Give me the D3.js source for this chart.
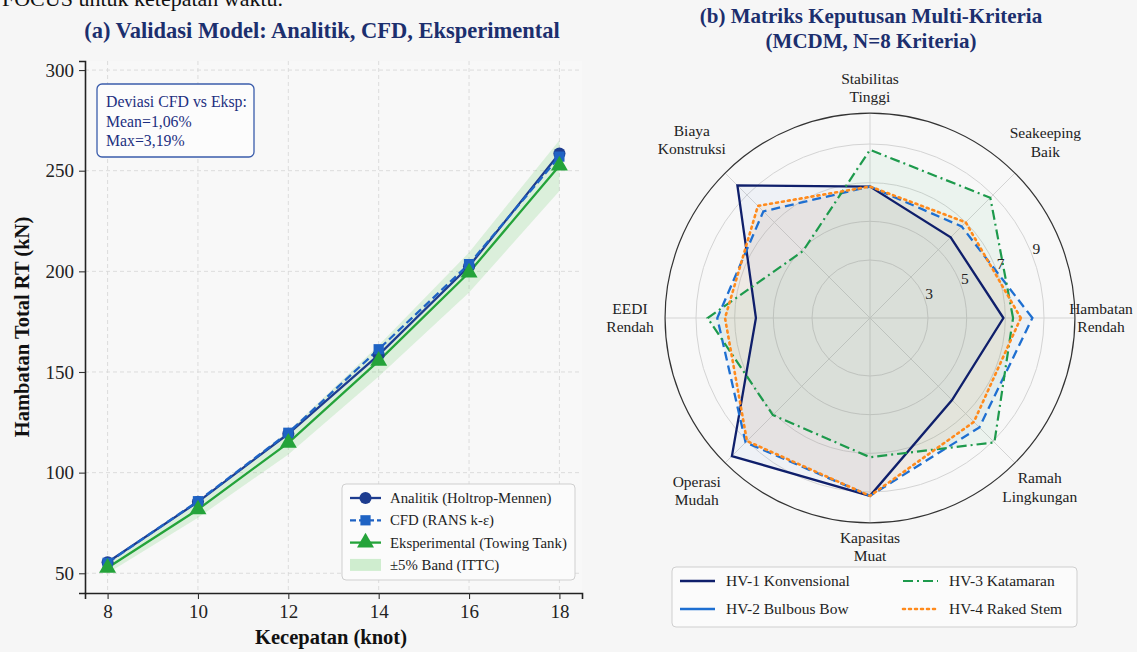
<!DOCTYPE html>
<html>
<head>
<meta charset="utf-8">
<script src="https://cdn.jsdelivr.net/npm/d3@7/dist/d3.min.js"></script>
<style>
  html, body { margin: 0; padding: 0; background: #f6f6f6; }
  svg { display: block; }
  text { font-family: "Liberation Serif", "DejaVu Serif", serif; }
</style>
</head>
<body>
<svg id="fig" width="1137" height="652"></svg>
<script>
// ---- Panel (a): resistance vs speed ----
const speeds = [8, 10, 12, 14, 16, 18];
const analitik = [55.5, 85.5, 119.3, 158.5, 202.5, 258.5];
const cfd = [55.2, 85.8, 119.8, 161.3, 203.6, 257.0];
const eksperimental = [52.7, 81.7, 114.8, 155.5, 199.4, 252.5];
const yTicks = [50, 100, 150, 200, 250, 300];
const xTicks = [8, 10, 12, 14, 16, 18];
const deviasiText = ["Deviasi CFD vs Eksp:", "Mean=1,06%", "Max=3,19%"];

// ---- Panel (b): MCDM radar ----
const criteria = [
  ["Hambatan", "Rendah"], ["Seakeeping", "Baik"], ["Stabilitas", "Tinggi"],
  ["Biaya", "Konstruksi"], ["EEDI", "Rendah"], ["Operasi", "Mudah"],
  ["Kapasitas", "Muat"], ["Ramah", "Lingkungan"]
];
const hv1 = [6.9, 5.9, 6.8, 9.7, 5.9, 10.1, 9.2, 6.0];
const hv2 = [8.4, 6.7, 6.8, 7.8, 7.9, 9.1, 9.2, 8.0];
const hv3 = [7.4, 8.8, 8.7, 4.9, 8.4, 7.1, 7.2, 9.1];
const hv4 = [7.8, 7.0, 6.8, 8.2, 7.5, 9.0, 9.2, 7.6];
const hullNames = ["HV-1 Konvensional", "HV-2 Bulbous Bow", "HV-3 Katamaran", "HV-4 Raked Stem"];
const rTicks = [3, 5, 7, 9];

const svg = d3.select("#fig");
const navyTitle = "#1c2f6e";

// clipped line of body text running above the figure
svg.append("text").attr("x", 2).attr("y", 6).attr("font-size", 22)
  .attr("fill", "#111").text("FOCUS untuk ketepatan waktu.");

// ================= Panel (a) =================
const A = { left: 85, right: 582, top: 61, bottom: 593 };
const x = d3.scaleLinear().domain([7.5, 18.5]).range([A.left, A.right]);
const y = d3.scaleLinear().domain([40.2, 304.5]).range([A.bottom, A.top]);
const gA = svg.append("g");

gA.append("rect").attr("x", A.left).attr("y", A.top)
  .attr("width", A.right - A.left).attr("height", A.bottom - A.top)
  .attr("fill", "#f8f8f8");

// dashed grid
gA.selectAll(".gx").data(xTicks).join("line")
  .attr("x1", d => x(d)).attr("x2", d => x(d)).attr("y1", A.top).attr("y2", A.bottom)
  .attr("stroke", "#d9d9d9").attr("stroke-width", 0.9).attr("stroke-dasharray", "4,3");
gA.selectAll(".gy").data(yTicks).join("line")
  .attr("x1", A.left).attr("x2", A.right).attr("y1", d => y(d)).attr("y2", d => y(d))
  .attr("stroke", "#d9d9d9").attr("stroke-width", 0.9).attr("stroke-dasharray", "4,3");

// axes
const xAxis = d3.axisBottom(x).tickValues(xTicks).tickSize(6).tickPadding(6).tickFormat(d3.format("d"));
const yAxis = d3.axisLeft(y).tickValues(yTicks).tickSize(6).tickPadding(5).tickFormat(d3.format("d"));
const gx = gA.append("g").attr("transform", `translate(0,${A.bottom})`).call(xAxis);
const gy = gA.append("g").attr("transform", `translate(${A.left},0)`).call(yAxis);
[gx, gy].forEach(g => {
  g.select(".domain").attr("stroke", "#222").attr("stroke-width", 1.6);
  g.selectAll(".tick line").attr("stroke", "#333").attr("stroke-width", 1.1);
  g.selectAll(".tick text").attr("font-family", "Liberation Serif, serif")
    .attr("font-size", 19).attr("fill", "#222");
});

// ±5% ITTC band around the towing-tank data
const bandArea = d3.area()
  .x((d, i) => x(speeds[i]))
  .y0(d => y(d * 0.95)).y1(d => y(d * 1.05));
gA.append("path").datum(eksperimental).attr("d", bandArea)
  .attr("fill", "#4cc24c").attr("fill-opacity", 0.17);

const lineGen = d3.line().x((d, i) => x(speeds[i])).y(d => y(d));
const series = [
  { vals: analitik, color: "#1d3c8f", dash: null, marker: "circle" },
  { vals: cfd, color: "#1f63c4", dash: "8,4", marker: "square" },
  { vals: eksperimental, color: "#24a33a", dash: null, marker: "triangle" }
];
const symbolFor = { circle: d3.symbolCircle, square: d3.symbolSquare, triangle: d3.symbolTriangle };
const symbolSize = { circle: 115, square: 105, triangle: 125 };

series.forEach(s => {
  gA.append("path").datum(s.vals).attr("d", lineGen)
    .attr("fill", "none").attr("stroke", s.color).attr("stroke-width", 2.3)
    .attr("stroke-dasharray", s.dash);
});
series.forEach(s => {
  gA.selectAll(null).data(s.vals).join("path")
    .attr("d", d3.symbol(symbolFor[s.marker], symbolSize[s.marker]))
    .attr("transform", (d, i) => `translate(${x(speeds[i])},${y(d)})`)
    .attr("fill", s.color);
});

// titles / labels
svg.append("text").attr("x", 322).attr("y", 38).attr("text-anchor", "middle")
  .attr("font-size", 22.5).attr("font-weight", "bold").attr("fill", navyTitle)
  .text("(a) Validasi Model: Analitik, CFD, Eksperimental");
svg.append("text").attr("transform", "translate(29,327) rotate(-90)")
  .attr("text-anchor", "middle").attr("font-size", 20.5).attr("font-weight", "bold")
  .attr("fill", "#111").text("Hambatan Total RT (kN)");
svg.append("text").attr("x", 331).attr("y", 644).attr("text-anchor", "middle")
  .attr("font-size", 20.5).attr("font-weight", "bold").attr("fill", "#111")
  .text("Kecepatan (knot)");

// deviation annotation
gA.append("rect").attr("x", 97).attr("y", 84).attr("width", 157).attr("height", 73)
  .attr("rx", 5).attr("fill", "#fcfcfc").attr("stroke", "#3a5cab").attr("stroke-width", 1.3);
gA.selectAll(".dev").data(deviasiText).join("text")
  .attr("x", 106).attr("y", (d, i) => 107 + i * 19.5)
  .attr("font-size", 15.8).attr("fill", "#1c2f80").text(d => d);

// legend (a)
const legA = gA.append("g");
legA.append("rect").attr("x", 342).attr("y", 484).attr("width", 233).attr("height", 96)
  .attr("rx", 4).attr("fill", "#fbfbfb").attr("stroke", "#cfcfcf").attr("stroke-width", 1);
const legItems = [
  { label: "Analitik (Holtrop-Mennen)", s: series[0] },
  { label: "CFD (RANS k-ε)", s: series[1] },
  { label: "Eksperimental (Towing Tank)", s: series[2] },
  { label: "±5% Band (ITTC)", s: null }
];
legItems.forEach((it, i) => {
  const cy = 498 + i * 22.3;
  if (it.s) {
    legA.append("line").attr("x1", 350).attr("x2", 381).attr("y1", cy).attr("y2", cy)
      .attr("stroke", it.s.color).attr("stroke-width", 2.3).attr("stroke-dasharray", it.s.dash ? "6,3" : null);
    legA.append("path").attr("d", d3.symbol(symbolFor[it.s.marker], symbolSize[it.s.marker])())
      .attr("transform", `translate(365.5,${cy})`).attr("fill", it.s.color);
  } else {
    legA.append("rect").attr("x", 350).attr("y", cy - 6).attr("width", 31).attr("height", 12)
      .attr("fill", "#4cc24c").attr("fill-opacity", 0.25);
  }
  legA.append("text").attr("x", 390).attr("y", cy + 5).attr("font-size", 14.8)
    .attr("fill", "#222").text(it.label);
});

// ================= Panel (b) =================
const cx = 870, cy0 = 318;
const rScale = d3.scaleLinear().domain([0, 10.5]).range([0, 203]);
const rMax = 10.6;
const nAx = criteria.length;
const theta = i => i * 2 * Math.PI / nAx;           // 0 = east, counter-clockwise
const gB = svg.append("g").attr("transform", `translate(${cx},${cy0})`);

// grid rings + spokes
gB.append("circle").attr("r", rScale(rMax)).attr("fill", "#f8f8f8");
gB.selectAll(".ring").data(rTicks).join("circle")
  .attr("r", d => rScale(d)).attr("fill", "none").attr("stroke", "#d4d4d4").attr("stroke-width", 1);
gB.selectAll(".spoke").data(criteria).join("line")
  .attr("x1", 0).attr("y1", 0)
  .attr("x2", (d, i) => rScale(rMax) * Math.cos(theta(i)))
  .attr("y2", (d, i) => -rScale(rMax) * Math.sin(theta(i)))
  .attr("stroke", "#d4d4d4").attr("stroke-width", 1);

const radar = d3.lineRadial()
  .angle((d, i) => Math.PI / 2 - theta(i))
  .radius(d => rScale(d))
  .curve(d3.curveLinearClosed);

const hulls = [
  { vals: hv1, color: "#0f1f6b", fill: "#5b8fd8", fo: 0.06, dash: null, legendDash: null, w: 2.3 },
  { vals: hv2, color: "#1e6fd1", fill: "#1e6fd1", fo: 0.05, dash: "9,5", legendDash: null, w: 2.3 },
  { vals: hv3, color: "#1d9a4c", fill: "#2aa85a", fo: 0.06, dash: "10,4,2,4", legendDash: "10,4,2,4", w: 2.2 },
  { vals: hv4, color: "#ff8a1c", fill: "#ff8a1c", fo: 0.08, dash: "2,4", legendDash: "2,4", w: 2.6 }
];
hulls.forEach(h => {
  gB.append("path").datum(h.vals).attr("d", radar)
    .attr("fill", h.fill).attr("fill-opacity", h.fo).attr("stroke", "none");
});
hulls.forEach(h => {
  gB.append("path").datum(h.vals).attr("d", radar)
    .attr("fill", "none").attr("stroke", h.color).attr("stroke-width", h.w)
    .attr("stroke-dasharray", h.dash).attr("stroke-linecap", h.dash === "2,4" ? "round" : "butt")
    .attr("stroke-linejoin", "miter");
});

// outer frame
gB.append("circle").attr("r", rScale(rMax)).attr("fill", "none")
  .attr("stroke", "#333").attr("stroke-width", 1.2);

// radial tick labels at 22.5°
const rlAng = Math.PI / 8;
gB.selectAll(".rl").data(rTicks).join("text")
  .attr("x", d => (rScale(d) + 6) * Math.cos(rlAng))
  .attr("y", d => -(rScale(d) + 6) * Math.sin(rlAng) + 5)
  .attr("text-anchor", "middle").attr("font-size", 15.5).attr("fill", "#222")
  .text(d => d);

// criterion labels (two-line blocks centred just outside the frame)
const labelRadius = [231, 248, 230, 252, 240, 245, 229, 240];
gB.selectAll(".cl").data(criteria).join("text")
  .attr("text-anchor", "middle").attr("font-size", 15.5).attr("fill", "#222")
  .each(function (d, i) {
    const lr = labelRadius[i];
    const px = lr * Math.cos(theta(i));
    const py = -lr * Math.sin(theta(i));
    const t = d3.select(this);
    d.forEach((line, k) => {
      t.append("tspan").attr("x", px).attr("y", py + (k - 0.5) * 18.5 + 5).text(line);
    });
  });

svg.append("text").attr("x", 871).attr("y", 23).attr("text-anchor", "middle")
  .attr("font-size", 21).attr("font-weight", "bold").attr("fill", navyTitle)
  .text("(b) Matriks Keputusan Multi-Kriteria");
svg.append("text").attr("x", 871).attr("y", 48).attr("text-anchor", "middle")
  .attr("font-size", 21).attr("font-weight", "bold").attr("fill", navyTitle)
  .text("(MCDM, N=8 Kriteria)");

// legend (b)
const legB = svg.append("g");
legB.append("rect").attr("x", 672).attr("y", 567).attr("width", 405).attr("height", 60)
  .attr("rx", 4).attr("fill", "#fbfbfb").attr("stroke", "#cfcfcf");
hullNames.forEach((name, i) => {
  const col = Math.floor(i / 2), row = i % 2;
  const lx = 680 + col * 223, ly = 581 + row * 28;
  const h = hulls[i];
  legB.append("line").attr("x1", lx).attr("x2", lx + 35).attr("y1", ly).attr("y2", ly)
    .attr("stroke", h.color).attr("stroke-width", h.w)
    .attr("stroke-dasharray", h.legendDash).attr("stroke-linecap", h.legendDash === "2,4" ? "round" : "butt");
  legB.append("text").attr("x", lx + 46).attr("y", ly + 5).attr("font-size", 15.5)
    .attr("fill", "#222").text(name);
});
</script>
</body>
</html>
